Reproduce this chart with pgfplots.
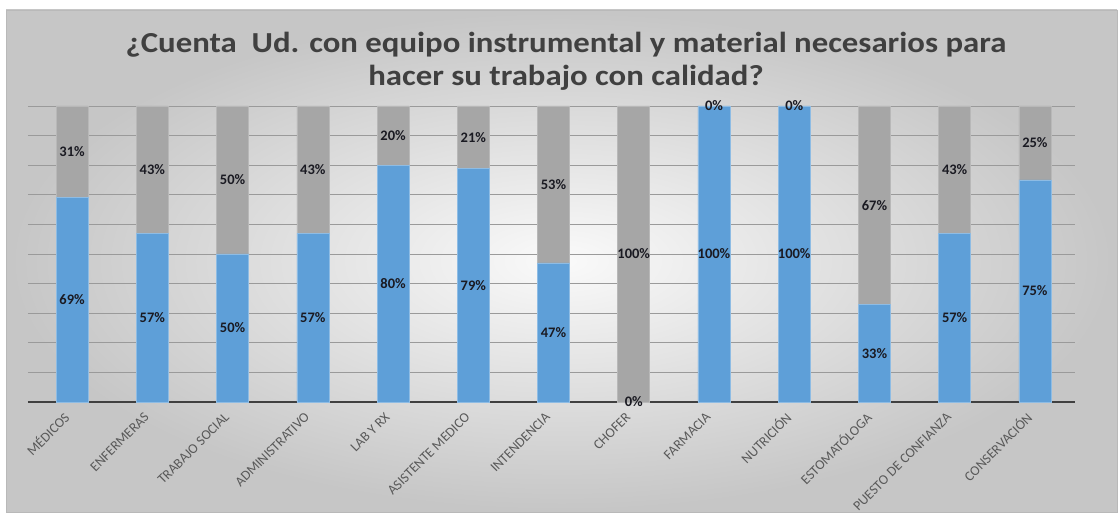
\documentclass[border=0pt]{standalone}
\usepackage{pgfplots}
\pgfplotsset{compat=1.18}
\usepackage{fontspec}
\setmainfont{Carlito}
\definecolor{barblue}{HTML}{5E9FD8}
\definecolor{bargray}{HTML}{A6A6A6}
\definecolor{gridc}{HTML}{9A9A9A}
\definecolor{titlec}{HTML}{404040}
\definecolor{tickc}{HTML}{595959}
\definecolor{labc}{HTML}{1A1A22}
\begin{document}
\begin{tikzpicture}[x=1pt,y=1pt]
\fill[white] (0,0) rectangle (1120,516);
\shade[inner color=gray!4, outer color=gray!45] (6,4) rectangle (1117,506);
\draw[gray!55, line width=0.8pt] (6,4) rectangle (1117,506);
\node[font=\fontsize{29}{33}\selectfont\bfseries, text=titlec, align=center, xscale=1.13] at (566,455) {¿Cuenta\ \ Ud. con equipo instrumental y material necesarios para\\hacer su trabajo con calidad?};
\begin{axis}[
  at={(28pt,114pt)}, anchor=south west, scale only axis,
  width=1047pt, height=296pt,
  ybar stacked, bar width=32pt,
  xmin=-0.55, xmax=12.5, ymin=0, ymax=100,
  xtick={0,...,12},
  xticklabels={MÉDICOS, ENFERMERAS, TRABAJO SOCIAL, ADMINISTRATIVO, LAB Y RX, ASISTENTE MEDICO, INTENDENCIA, CHOFER, FARMACIA, NUTRICIÓN, ESTOMATÓLOGA, PUESTO DE CONFIANZA, CONSERVACIÓN},
  xticklabel style={rotate=45, anchor=east, font=\fontsize{13.8}{14}\selectfont, text=tickc, inner sep=1pt, yshift=-5pt, xshift=-12pt},
  ytick={10,20,...,100}, yticklabels={},
  ymajorgrids, grid style={gridc, line width=0.9pt},
  axis lines*=left,
  x axis line style={draw=black!75, line width=1.3pt, -},
  y axis line style={draw=none},
  major tick length=0pt,
  clip=false,
]
\addplot[fill=barblue, draw=barblue!70!white, line width=0.6pt] coordinates {
(0,69) (1,57) (2,50) (3,57) (4,80) (5,79) (6,47) (7,0) (8,100) (9,100) (10,33) (11,57) (12,75)};
\addplot[fill=bargray, draw=bargray!80!white, line width=0.6pt] coordinates {
(0,31) (1,43) (2,50) (3,43) (4,20) (5,21) (6,53) (7,100) (8,0) (9,0) (10,67) (11,43) (12,25)};
\end{axis}
\begin{axis}[
  at={(28pt,114pt)}, anchor=south west, scale only axis,
  width=1047pt, height=296pt,
  xmin=-0.55, xmax=12.5, ymin=0, ymax=100,
  hide axis, clip=false,
  nodes near coords, point meta=explicit symbolic,
  every node near coord/.append style={anchor=center, font=\fontsize{14.5}{15}\selectfont\bfseries, text=labc, inner sep=0pt},
]
\addplot[draw=none, mark=none] coordinates {
(0,34.5)[69\%] (1,28.5)[57\%] (2,25)[50\%] (3,28.5)[57\%] (4,40)[80\%] (5,39.5)[79\%] (6,23.5)[47\%] (7,0)[0\%] (8,50)[100\%] (9,50)[100\%] (10,16.5)[33\%] (11,28.5)[57\%] (12,37.5)[75\%]};
\addplot[draw=none, mark=none] coordinates {
(0,84.5)[31\%] (1,78.5)[43\%] (2,75)[50\%] (3,78.5)[43\%] (4,90)[20\%] (5,89.5)[21\%] (6,73.5)[53\%] (7,50)[100\%] (8,100)[0\%] (9,100)[0\%] (10,66.5)[67\%] (11,78.5)[43\%] (12,87.5)[25\%]};
\end{axis}
\pgfresetboundingbox
\useasboundingbox (0,0) rectangle (1120,516);
\end{tikzpicture}
\end{document}
